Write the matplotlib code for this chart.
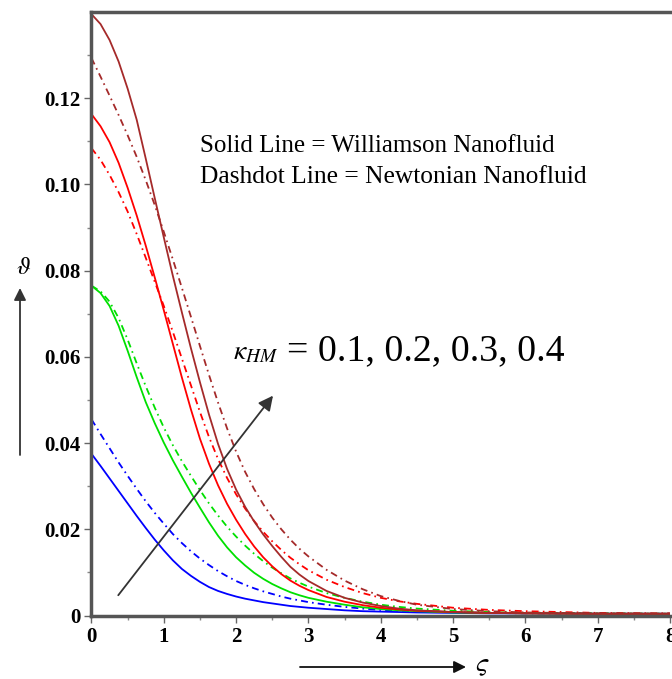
import numpy as np
import matplotlib
matplotlib.use("Agg")
import matplotlib.pyplot as plt

plt.rcParams["font.family"] = ["Liberation Serif", "DejaVu Serif"]
plt.rcParams["mathtext.fontset"] = "stix"
plt.rcParams["lines.scale_dashes"] = False

# similarity variable (x axis)
xi = [0, 0.125, 0.25, 0.375, 0.5, 0.625, 0.75, 0.875, 1.0, 1.125, 1.25, 1.375,
      1.5, 1.625, 1.75, 1.875, 2.0, 2.125, 2.25, 2.375, 2.5, 2.625, 2.75, 2.875,
      3.0, 3.25, 3.5, 3.75, 4.0, 4.25, 4.5, 5.0, 5.5, 6.0, 7.0, 8.0]

# Williamson nanofluid (solid), kappa_HM = 0.1 .. 0.4
w_01 = [0.0375, 0.0347, 0.0318, 0.0289, 0.0260, 0.0231, 0.0203, 0.0176, 0.0151, 0.0128, 0.0108, 0.0092,
        0.0078, 0.0066, 0.0057, 0.0050, 0.0044, 0.0039, 0.0035, 0.0031, 0.0028, 0.0025, 0.0022, 0.0020,
        0.0018, 0.0015, 0.0012, 0.0010, 0.0009, 0.0008, 0.0007, 0.0006, 0.0005, 0.0005, 0.0004, 0.0004]
w_02 = [0.0765, 0.0748, 0.0718, 0.0672, 0.0614, 0.0553, 0.0495, 0.0446, 0.0401, 0.0360, 0.0322, 0.0285,
        0.0250, 0.0216, 0.0185, 0.0158, 0.0135, 0.0116, 0.0099, 0.0085, 0.0073, 0.0063, 0.0054, 0.0047,
        0.0041, 0.0032, 0.0025, 0.0019, 0.0015, 0.0012, 0.0010, 0.0007, 0.0006, 0.0005, 0.0004, 0.0004]
w_03 = [0.1163, 0.1135, 0.1098, 0.1050, 0.0992, 0.0928, 0.0858, 0.0784, 0.0708, 0.0630, 0.0552, 0.0478,
        0.0410, 0.0352, 0.0302, 0.0259, 0.0222, 0.0189, 0.0160, 0.0135, 0.0114, 0.0096, 0.0081, 0.0069,
        0.0059, 0.0043, 0.0032, 0.0024, 0.0018, 0.0014, 0.0011, 0.0008, 0.0006, 0.0005, 0.0004, 0.0004]
w_04 = [0.1395, 0.1372, 0.1335, 0.1285, 0.1222, 0.1150, 0.1060, 0.0968, 0.0877, 0.0788, 0.0703, 0.0620,
        0.0541, 0.0466, 0.0398, 0.0340, 0.0292, 0.0252, 0.0218, 0.0188, 0.0161, 0.0136, 0.0113, 0.0095,
        0.0080, 0.0057, 0.0041, 0.0030, 0.0022, 0.0016, 0.0012, 0.0008, 0.0006, 0.0005, 0.0004, 0.0004]

# Newtonian nanofluid (dashdot)
n_01 = [0.0455, 0.0421, 0.0388, 0.0355, 0.0324, 0.0294, 0.0265, 0.0238, 0.0213, 0.0189, 0.0168, 0.0149,
        0.0132, 0.0117, 0.0103, 0.0091, 0.0080, 0.0071, 0.0063, 0.0056, 0.0050, 0.0044, 0.0039, 0.0035,
        0.0031, 0.0025, 0.0020, 0.0016, 0.0013, 0.0011, 0.0010, 0.0008, 0.0006, 0.0005, 0.0004, 0.0004]
n_02 = [0.0765, 0.0752, 0.0728, 0.0690, 0.0640, 0.0585, 0.0532, 0.0482, 0.0436, 0.0395, 0.0358, 0.0324,
        0.0291, 0.0260, 0.0232, 0.0206, 0.0183, 0.0162, 0.0143, 0.0126, 0.0111, 0.0098, 0.0086, 0.0076,
        0.0067, 0.0052, 0.0041, 0.0032, 0.0025, 0.0020, 0.0016, 0.0011, 0.0008, 0.0006, 0.0005, 0.0004]
n_03 = [0.1084, 0.1057, 0.1022, 0.0982, 0.0937, 0.0885, 0.0830, 0.0774, 0.0718, 0.0658, 0.0596, 0.0534,
        0.0472, 0.0414, 0.0363, 0.0319, 0.0281, 0.0248, 0.0219, 0.0194, 0.0172, 0.0152, 0.0134, 0.0119,
        0.0105, 0.0083, 0.0066, 0.0052, 0.0041, 0.0033, 0.0027, 0.0018, 0.0013, 0.0010, 0.0006, 0.0005]
n_04 = [0.1293, 0.1250, 0.1206, 0.1161, 0.1114, 0.1064, 0.1010, 0.0952, 0.0890, 0.0826, 0.0760, 0.0693,
        0.0625, 0.0558, 0.0494, 0.0434, 0.0380, 0.0333, 0.0293, 0.0258, 0.0227, 0.0200, 0.0176, 0.0155,
        0.0137, 0.0106, 0.0081, 0.0061, 0.0045, 0.0034, 0.0025, 0.0015, 0.0010, 0.0007, 0.0005, 0.0004]

colors = ["#0000FF", "#00E000", "#FF0000", "#A52A2A"]
solid_series = [w_01, w_02, w_03, w_04]
dashdot_series = [n_01, n_02, n_03, n_04]

fig = plt.figure(figsize=(6.72, 6.79), dpi=100)
ax = fig.add_axes([91.5 / 672, 63.5 / 679, (670 - 91.5) / 672, (615.5 - 12) / 679])

dashdot = (0, (5, 3, 1.2, 3))
for ys, c in zip(dashdot_series, colors):
    ax.plot(xi, ys, color=c, lw=1.3, linestyle=dashdot)
for ys, c in zip(solid_series, colors):
    ax.plot(xi, ys, color=c, lw=1.3)

ax.set_xlim(0, 8)
ax.set_ylim(0, 0.14)
ax.set_xticks(range(0, 9))
ax.set_xticks(np.arange(0.5, 8, 1), minor=True)
ax.set_yticks([0, 0.02, 0.04, 0.06, 0.08, 0.10, 0.12])
ax.set_yticklabels(["0", "0.02", "0.04", "0.06", "0.08", "0.10", "0.12"])
ax.set_yticks(np.arange(0.01, 0.14, 0.02), minor=True)
ax.tick_params(which="major", direction="out", length=5, width=1, color="#666666",
               labelsize=15, pad=3)
ax.tick_params(which="minor", direction="out", length=3, width=1, color="#888888")
for lab in ax.get_xticklabels() + ax.get_yticklabels():
    lab.set_fontweight("bold")
ax.spines["right"].set_visible(False)
for s in ["left", "bottom", "top"]:
    ax.spines[s].set_linewidth(2.5)
    ax.spines[s].set_color("#555555")

# legend-like notes
ax.text(1.50, 0.1076, "Solid Line = Williamson Nanofluid", fontsize=18, va="baseline")
ax.text(1.50, 0.1003, "Dashdot Line = Newtonian Nanofluid", fontsize=18.4, va="baseline")

# parameter arrow
ax.annotate("", xy=(2.51, 0.0510), xytext=(0.37, 0.0047),
            arrowprops=dict(arrowstyle="-|>", color="#333333", lw=1.3,
                            mutation_scale=22, shrinkA=0, shrinkB=0))
ax.text(1.96, 0.0593, r"$\kappa_{HM}$", fontsize=20, va="baseline")
ax.text(2.70, 0.0593, "= 0.1, 0.2, 0.3, 0.4", fontsize=27.3, va="baseline")

# axis labels with arrows
ax.annotate("", xy=(20 / 672, 1 - 288 / 679), xytext=(20 / 672, 1 - 455 / 679),
            xycoords="figure fraction", textcoords="figure fraction",
            arrowprops=dict(arrowstyle="-|>", color="#333333", lw=1.3,
                            mutation_scale=18, shrinkA=0, shrinkB=0))
fig.text(24 / 672, 1 - 268 / 679, r"$\vartheta$", fontsize=18, ha="center", va="center")
ax.annotate("", xy=(466 / 672, 1 - 667 / 679), xytext=(300 / 672, 1 - 667 / 679),
            xycoords="figure fraction", textcoords="figure fraction",
            arrowprops=dict(arrowstyle="-|>", color="#111111", lw=1.3,
                            mutation_scale=18, shrinkA=0, shrinkB=0))
fig.text(482 / 672, 1 - 666 / 679, r"$\varsigma$", fontsize=20, ha="center", va="center")

fig.savefig("out.png", dpi=100)
